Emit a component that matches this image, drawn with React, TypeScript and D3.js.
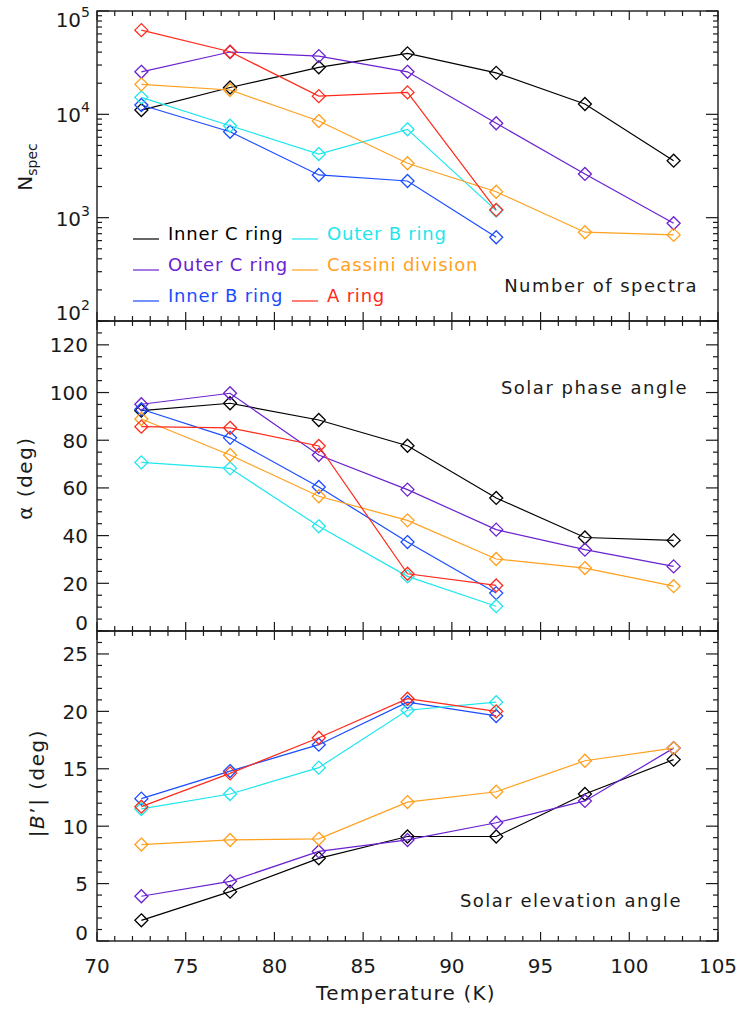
import React, { useRef, useEffect } from "react";
import * as d3 from "d3";

// ring temperature bins (K)
const temps = [72.5, 77.5, 82.5, 87.5, 92.5, 97.5, 102.5];

const ringNames = ["Inner C ring", "Outer C ring", "Inner B ring", "Outer B ring", "Cassini division", "A ring"];
const ringColors = ["#000000", "#6a22d0", "#1a4cff", "#1ee6ee", "#ffa01e", "#ff2a1a"];

// number of spectra per bin
const nSpec = [
  [11000, 18200, 28500, 38900, 25200, 12600, 3560],
  [25800, 40100, 36600, 25800, 8190, 2650, 883],
  [12300, 6790, 2590, 2265, 646],
  [14600, 7760, 4130, 7160, 1170],
  [19500, 17200, 8610, 3360, 1780, 723, 681],
  [65300, 40300, 15000, 16300, 1190],
];

// solar phase angle (deg)
const phaseAngle = [
  [92.4, 95.5, 88.5, 77.7, 55.8, 39.2, 38.0],
  [95.1, 99.7, 73.8, 59.3, 42.5, 34.1, 27.1],
  [93.0, 81.0, 60.4, 37.3, 15.9],
  [70.7, 68.2, 43.9, 22.9, 10.4],
  [88.9, 73.8, 56.5, 46.4, 30.2, 26.4, 18.8],
  [85.7, 85.2, 77.6, 24.0, 19.1],
];

// solar elevation angle |B'| (deg)
const elevAngle = [
  [1.8, 4.3, 7.2, 9.1, 9.1, 12.8, 15.8],
  [3.9, 5.2, 7.8, 8.8, 10.3, 12.2, 16.8],
  [12.4, 14.8, 17.1, 20.8, 19.6],
  [11.5, 12.8, 15.1, 20.1, 20.8],
  [8.4, 8.8, 8.9, 12.1, 13.0, 15.7, 16.8],
  [11.7, 14.6, 17.7, 21.1, 20.0],
];

const xTicks = [70, 75, 80, 85, 90, 95, 100, 105];
const alphaTicks = [0, 20, 40, 60, 80, 100, 120];
const elevTicks = [0, 5, 10, 15, 20, 25];
const nSpecTicks = [2, 3, 4, 5];

const FONT = "'DejaVu Sans ExtraLight', 'DejaVu Sans', sans-serif";
const INK = "#1a1a1a";

const App = () => {
  const svgRef = useRef(null);

  useEffect(() => {
    const width = 743;
    const height = 1013;
    const left = 97;
    const right = 718;
    const tops = [11, 321, 631];
    const panelH = 310;

    const svg = d3.select(svgRef.current).attr("width", width).attr("height", height);
    svg.selectAll("*").remove();

    const x = d3.scaleLinear().domain([70, 105]).range([left, right]);

    const yScales = [
      d3.scaleLog().domain([100, 1e5]).range([tops[0] + panelH, tops[0]]),
      d3.scaleLinear().domain([0, 130]).range([tops[1] + panelH, tops[1]]),
      d3.scaleLinear().domain([0, 27]).range([tops[2] + panelH, tops[2]]),
    ];
    const panelData = [nSpec, phaseAngle, elevAngle];

    const diamond = (cx, cy, s) => `M${cx},${cy - s}L${cx + s},${cy}L${cx},${cy + s}L${cx - s},${cy}Z`;

    panelData.forEach((series, p) => {
      const y = yScales[p];
      const top = tops[p];
      const bottom = top + panelH;
      const g = svg.append("g").attr("class", "panel");

      // x ticks, top and bottom, pointing inward
      const xMinor = d3.range(70, 106, 1);
      xMinor.forEach((t) => {
        const len = t % 5 === 0 ? 9 : 5;
        g.append("line").attr("x1", x(t)).attr("x2", x(t)).attr("y1", bottom).attr("y2", bottom - len)
          .attr("stroke", INK).attr("stroke-width", 1.2);
        g.append("line").attr("x1", x(t)).attr("x2", x(t)).attr("y1", top).attr("y2", top + len)
          .attr("stroke", INK).attr("stroke-width", 1.2);
      });

      // y ticks, left and right
      let yMajor, yMinor;
      if (p === 0) {
        yMajor = nSpecTicks.map((e) => Math.pow(10, e));
        yMinor = [];
        [2, 3, 4].forEach((e) => d3.range(2, 10).forEach((m) => yMinor.push(m * Math.pow(10, e))));
      } else if (p === 1) {
        yMajor = alphaTicks;
        yMinor = d3.range(0, 131, 5).filter((v) => v % 20 !== 0);
      } else {
        yMajor = elevTicks;
        yMinor = d3.range(0, 28, 1).filter((v) => v % 5 !== 0);
      }
      const drawYTick = (v, len) => {
        g.append("line").attr("x1", left).attr("x2", left + len).attr("y1", y(v)).attr("y2", y(v))
          .attr("stroke", INK).attr("stroke-width", 1.2);
        g.append("line").attr("x1", right).attr("x2", right - len).attr("y1", y(v)).attr("y2", y(v))
          .attr("stroke", INK).attr("stroke-width", 1.2);
      };
      yMajor.forEach((v) => drawYTick(v, 12));
      yMinor.forEach((v) => drawYTick(v, 5));

      // y tick labels
      yMajor.forEach((v) => {
        const ly = Math.max(top + 10, Math.min(bottom - 7, y(v) + 2));
        const t = g.append("text").attr("x", p === 0 ? 90 : 88).attr("y", ly)
          .attr("text-anchor", "end").attr("dominant-baseline", "middle")
          .attr("font-family", FONT).attr("font-size", 20).attr("fill", INK);
        if (p === 0) {
          t.append("tspan").text("10");
          t.append("tspan").attr("dy", -8).attr("font-size", 14).text(String(Math.round(Math.log10(v))));
        } else {
          t.text(String(v));
        }
      });

      // series
      series.forEach((vals, i) => {
        const pts = vals.map((v, j) => [x(temps[j]), y(v)]);
        g.append("path").attr("d", d3.line()(pts)).attr("fill", "none")
          .attr("stroke", ringColors[i]).attr("stroke-width", 1.2);
        pts.forEach(([cx, cy]) => {
          g.append("path").attr("d", diamond(cx, cy, 6.5)).attr("fill", "none")
            .attr("stroke", ringColors[i]).attr("stroke-width", 1.3);
        });
      });

      // frame
      g.append("rect").attr("x", left).attr("y", top).attr("width", right - left).attr("height", panelH)
        .attr("fill", "none").attr("stroke", INK).attr("stroke-width", 1.4);
    });

    // x tick labels
    xTicks.forEach((t) => {
      svg.append("text").attr("x", x(t)).attr("y", 973).attr("text-anchor", "middle")
        .attr("font-family", FONT).attr("font-size", 20).attr("fill", INK).text(String(t));
    });

    svg.append("text").attr("x", 406).attr("y", 1000).attr("text-anchor", "middle")
      .attr("font-family", FONT).attr("font-size", 20).attr("letter-spacing", 1.2).attr("fill", INK)
      .text("Temperature (K)");

    // y titles
    const nt = svg.append("text").attr("transform", "translate(32,167) rotate(-90)")
      .attr("text-anchor", "middle").attr("font-family", FONT).attr("font-size", 20).attr("fill", INK);
    nt.append("tspan").text("N");
    nt.append("tspan").attr("dy", 5).attr("font-size", 14).text("spec");

    svg.append("text").attr("transform", "translate(32,478) rotate(-90)")
      .attr("text-anchor", "middle").attr("font-family", FONT).attr("font-size", 20)
      .attr("letter-spacing", 1.5).attr("fill", INK).text("α (deg)");

    const bt = svg.append("text").attr("transform", "translate(44,783) rotate(-90)")
      .attr("text-anchor", "middle").attr("font-family", FONT).attr("font-size", 20)
      .attr("letter-spacing", 1.5).attr("fill", INK);
    bt.append("tspan").text("|");
    bt.append("tspan").attr("font-style", "italic").text("B");
    bt.append("tspan").text("’| (deg)");

    // panel annotations
    const notes = [
      ["Number of spectra", 698, 292],
      ["Solar phase angle", 688, 394],
      ["Solar elevation angle", 682, 907],
    ];
    notes.forEach(([label, nx, ny]) => {
      svg.append("text").attr("x", nx).attr("y", ny).attr("text-anchor", "end")
        .attr("font-family", FONT).attr("font-size", 18).attr("letter-spacing", 1.5).attr("fill", INK)
        .text(label);
    });

    // legend
    const legendCols = [133, 292];
    const legendRows = [240, 271, 302];
    ringNames.forEach((name, i) => {
      const lx = legendCols[Math.floor(i / 3)];
      const ly = legendRows[i % 3];
      svg.append("line").attr("x1", lx).attr("x2", lx + 26).attr("y1", ly - 1).attr("y2", ly - 1)
        .attr("stroke", ringColors[i]).attr("stroke-width", 1.2);
      svg.append("text").attr("x", lx + 35).attr("y", ly).attr("font-family", FONT)
        .attr("font-size", 18).attr("letter-spacing", 0.8).attr("fill", ringColors[i]).text(name);
    });
  }, []);

  return <svg ref={svgRef} style={{ position: "absolute", left: 0, top: 0, background: "#fff" }} />;
};

export default App;
